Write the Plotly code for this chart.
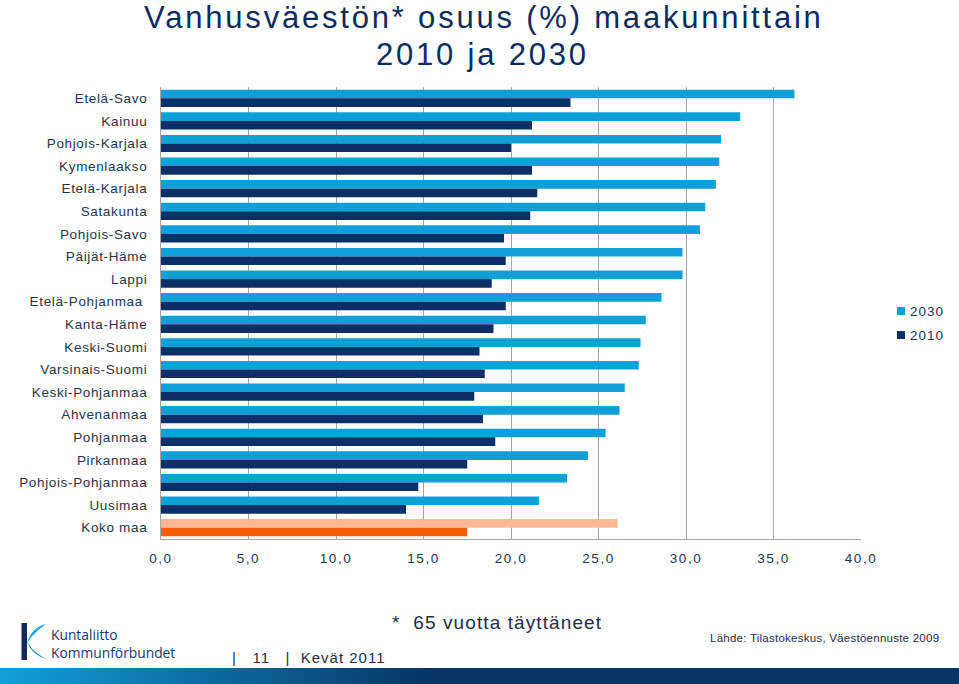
import plotly.graph_objects as go

regions = ["Etelä-Savo", "Kainuu", "Pohjois-Karjala", "Kymenlaakso", "Etelä-Karjala",
           "Satakunta", "Pohjois-Savo", "Päijät-Häme", "Lappi", "Etelä-Pohjanmaa ",
           "Kanta-Häme", "Keski-Suomi", "Varsinais-Suomi", "Keski-Pohjanmaa", "Ahvenanmaa",
           "Pohjanmaa", "Pirkanmaa", "Pohjois-Pohjanmaa", "Uusimaa", "Koko maa"]
v2030 = [36.2, 33.1, 32.0, 31.9, 31.7, 31.1, 30.8, 29.8, 29.8, 28.6,
         27.7, 27.4, 27.3, 26.5, 26.2, 25.4, 24.4, 23.2, 21.6, 26.1]
v2010 = [23.4, 21.2, 20.0, 21.2, 21.5, 21.1, 19.6, 19.7, 18.9, 19.7,
         19.0, 18.2, 18.5, 17.9, 18.4, 19.1, 17.5, 14.7, 14.0, 17.5]
series_names = ["2030", "2010"]
x_ticks = [0, 5, 10, 15, 20, 25, 30, 35, 40]
x_tick_labels = ["0,0", "5,0", "10,0", "15,0", "20,0", "25,0", "30,0", "35,0", "40,0"]

C2030, C2010 = "#0fa0d7", "#0b2f66"
K2030, K2010 = "#fdb994", "#f45d05"
col2030 = [C2030] * (len(regions) - 1) + [K2030]
col2010 = [C2010] * (len(regions) - 1) + [K2010]

FW, FH = 959, 684
ML, MR, MT, MB = 161, 98, 87, 145
PW, PH = FW - ML - MR, FH - MT - MB


def px(x):
    return (x - ML) / PW


def py(y):
    return 1 - (y - MT) / PH


def ls(text, sp):
    return '<span style="letter-spacing:%.2fpx">%s</span>' % (sp, text)


fig = go.Figure()
fig.add_trace(go.Bar(y=regions, x=v2030, name=series_names[0], orientation="h",
                     marker=dict(color=col2030, line=dict(width=0))))
fig.add_trace(go.Bar(y=regions, x=v2010, name=series_names[1], orientation="h",
                     marker=dict(color=col2010, line=dict(width=0))))

TXT = "#26344d"
NAVY = "#0c2b5e"
fig.update_layout(
    width=FW, height=FH,
    margin=dict(l=ML, r=MR, t=MT, b=MB, autoexpand=False),
    paper_bgcolor="white", plot_bgcolor="white",
    barmode="group", bargap=0.24, bargroupgap=0,
    font=dict(family="Liberation Sans, Arial", size=13, color=TXT),
    showlegend=False,
    xaxis=dict(range=[0, 40], tickvals=x_ticks,
               ticktext=[ls(t, 1.5) for t in x_tick_labels],
               showgrid=True, gridcolor="#a6a6a6", gridwidth=1,
               showline=True, linecolor="#a6a6a6", linewidth=1,
               ticks="", ticklabelstandoff=7, zeroline=False,
               tickfont=dict(size=13.5, color=TXT), fixedrange=True),
    yaxis=dict(autorange="reversed", showline=True, linecolor="#a6a6a6",
               linewidth=1, ticks="", ticklabelstandoff=10, showgrid=False,
               tickvals=regions, ticktext=[ls(r, 0.65) for r in regions],
               tickfont=dict(size=13.5, color=TXT), fixedrange=True),
)

ann = []
ann.append(dict(text=ls("Vanhusväestön* osuus (%) maakunnittain", 2.8), x=px(484), y=py(17),
                xanchor="center", yanchor="middle", font=dict(size=31, color=NAVY)))
ann.append(dict(text=ls("2010 ja 2030", 2.8), x=px(482), y=py(55),
                xanchor="center", yanchor="middle", font=dict(size=31, color=NAVY)))
ann.append(dict(text=ls("*  65 vuotta täyttäneet", 1.1), x=px(390), y=py(622),
                xanchor="left", yanchor="middle", font=dict(size=19, color="#1e2d4a")))
ann.append(dict(text=ls("Lähde: Tilastokeskus, Väestöennuste 2009", 0.25), x=px(941), y=py(638),
                xanchor="right", yanchor="middle", font=dict(size=11.5, color="#1e2d4a")))
ann.append(dict(text=ls("|   11   |  Kevät 2011", 1.0), x=px(230), y=py(657),
                xanchor="left", yanchor="middle", font=dict(size=15, color="#1e2d4a")))
ann.append(dict(text="Kuntaliitto<br>Kommunförbundet", x=px(49), y=py(643.5),
                xanchor="left", yanchor="middle", align="left",
                font=dict(family="Open Sans", size=13.8, color="#173a6e")))
# manual legend texts
legend_y = [311, 335]
for name, yy in zip(series_names, legend_y):
    ann.append(dict(text=ls(name, 1.0), x=px(908), y=py(yy),
                    xanchor="left", yanchor="middle", font=dict(size=13.5, color=TXT)))
for a in ann:
    a.update(xref="paper", yref="paper", showarrow=False)
fig.update_layout(annotations=ann)

shapes = []
# manual legend symbols
for col, yy in zip([C2030, C2010], legend_y):
    shapes.append(dict(type="rect", xref="paper", yref="paper",
                       x0=px(897), x1=px(905), y0=py(yy + 4), y1=py(yy - 4),
                       fillcolor=col, line=dict(width=0)))
# footer gradient band
c0 = (18, 160, 216)
c1 = (8, 52, 102)
step = 8
for x0 in range(0, 440, step):
    t = min(1.0, x0 / 430)
    c = tuple(int(c0[i] + (c1[i] - c0[i]) * t) for i in range(3))
    shapes.append(dict(type="rect", xref="paper", yref="paper",
                       x0=px(x0), x1=px(x0 + step + 1), y0=py(684), y1=py(668),
                       fillcolor="rgb(%d,%d,%d)" % c, line=dict(width=0), layer="above"))
shapes.append(dict(type="rect", xref="paper", yref="paper",
                   x0=px(440), x1=px(959), y0=py(684), y1=py(668),
                   fillcolor="rgb(%d,%d,%d)" % c1, line=dict(width=0), layer="above"))
# logo: K stem
shapes.append(dict(type="rect", xref="paper", yref="paper",
                   x0=px(21.5), x1=px(27), y0=py(660), y1=py(623),
                   fillcolor="#10295a", line=dict(width=0), layer="above"))


def path(pts):
    s = "M %f,%f " % (px(pts[0][0]), py(pts[0][1]))
    i = 1
    while i + 2 <= len(pts) - 1:
        s += "C %f,%f %f,%f %f,%f " % (px(pts[i][0]), py(pts[i][1]),
                                       px(pts[i + 1][0]), py(pts[i + 1][1]),
                                       px(pts[i + 2][0]), py(pts[i + 2][1]))
        i += 3
    return s + "Z"


# upper swoosh
shapes.append(dict(type="path", xref="paper", yref="paper",
                   path=path([(46, 624), (36, 626), (29, 634), (27, 644),
                              (31, 636), (38, 630), (46, 624)]),
                   fillcolor="#1aa6de", line=dict(width=0), layer="above"))
# lower swoosh
shapes.append(dict(type="path", xref="paper", yref="paper",
                   path=path([(27, 641), (30, 651), (38, 657), (47, 659),
                              (38, 655), (31, 649), (27, 641)]),
                   fillcolor="#1a8fc8", line=dict(width=0), layer="above"))
fig.update_layout(shapes=shapes)

fig.write_html("out.html", config={"displayModeBar": False},
               post_script="document.body.style.margin='0';document.body.style.overflow='hidden';")
